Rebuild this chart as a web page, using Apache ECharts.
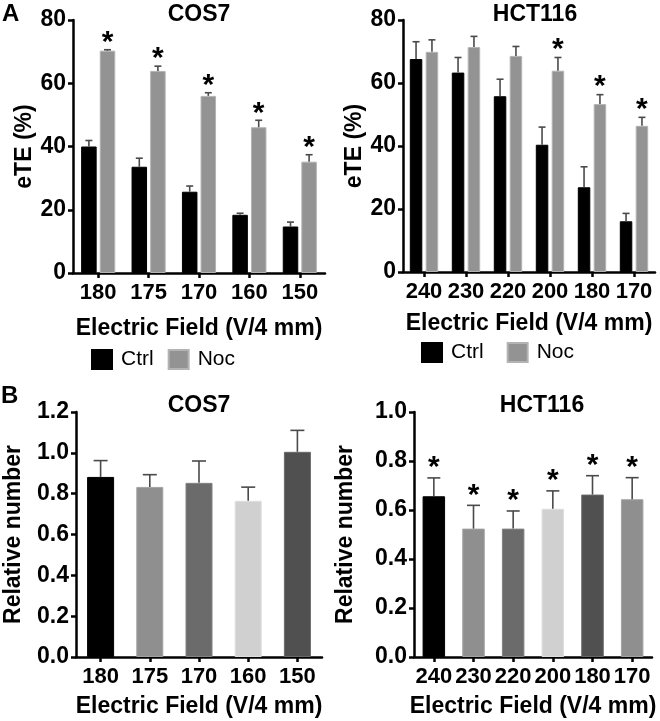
<!DOCTYPE html>
<html>
<head>
<meta charset="utf-8">
<script src="https://cdn.jsdelivr.net/npm/echarts@6/dist/echarts.min.js"></script>
<style>html,body{margin:0;padding:0;background:#fff}#c{width:660px;height:721px}</style>
</head>
<body>
<div id="c"></div>
<script>
// ---- data ----
var cos7Fields = ['180', '175', '170', '160', '150'];
var cos7Ctrl = [40.0, 33.6, 25.7, 18.4, 14.7];
var cos7CtrlErr = [1.9, 2.7, 1.8, 0.5, 1.4];
var cos7Noc = [70.3, 63.9, 56.0, 46.1, 35.2];
var cos7NocErr = [0.3, 1.5, 1.0, 2.2, 2.2];
var cos7NocSig = [true, true, true, true, true];

var hctFields = ['240', '230', '220', '200', '180', '170'];
var hctCtrl = [67.6, 63.3, 55.8, 40.4, 26.9, 16.1];
var hctCtrlErr = [5.5, 4.8, 5.4, 5.6, 6.5, 2.5];
var hctNoc = [69.9, 71.4, 68.6, 63.9, 53.3, 46.4];
var hctNocErr = [3.8, 3.4, 3.0, 4.2, 3.0, 2.7];
var hctNocSig = [false, false, false, true, true, true];

var cos7Rel = [0.882, 0.833, 0.853, 0.765, 1.005];
var cos7RelErr = [0.080, 0.060, 0.107, 0.067, 0.105];
var cos7RelSig = [false, false, false, false, false];

var hctRel = [0.656, 0.524, 0.524, 0.605, 0.663, 0.644];
var hctRelErr = [0.075, 0.095, 0.072, 0.073, 0.077, 0.088];
var hctRelSig = [true, true, true, true, true, true];

// ---- styles ----
var FONT = '"Liberation Sans", Arial, Helvetica, sans-serif';
var ERR_COLOR = '#4a4a4a';
var NOC_FILL = '#939393', NOC_BORDER = '#b3b3b3';
var cos7Palette = [['#000000', '#000000'], ['#8f8f8f', '#a3a3a3'], ['#6b6b6b', '#828282'], ['#d0d0d0', '#dedede'], ['#505050', '#686868']];
var hctPalette = [['#000000', '#000000'], ['#8f8f8f', '#a3a3a3'], ['#6b6b6b', '#828282'], ['#d0d0d0', '#dedede'], ['#505050', '#686868'], ['#8f8f8f', '#a3a3a3']];

function errData(vals, errs) {
  return vals.map(function (v, i) { return [i, v, v + errs[i]]; });
}
function sigData(vals, errs, sig) {
  var out = [];
  vals.forEach(function (v, i) { if (sig[i]) out.push([i, v + errs[i]]); });
  return out;
}
function errRender(offset, capHalf) {
  return function (params, api) {
    var i = api.value(0);
    var p0 = api.coord([i, api.value(1)]);
    var p1 = api.coord([i, api.value(2)]);
    var x = p0[0] + offset;
    var st = { stroke: ERR_COLOR, lineWidth: 1.6 };
    return {
      type: 'group',
      children: [
        { type: 'line', shape: { x1: x, y1: p0[1], x2: x, y2: p1[1] }, style: st },
        { type: 'line', shape: { x1: x - capHalf, y1: p1[1], x2: x + capHalf, y2: p1[1] }, style: st }
      ]
    };
  };
}
function starRender(offset, lift) {
  return function (params, api) {
    var i = api.value(0);
    var p = api.coord([i, api.value(1)]);
    return {
      type: 'text',
      style: {
        x: p[0] + offset, y: p[1] - lift, text: '*',
        fill: '#000', font: 'bold 30px ' + FONT,
        align: 'center', verticalAlign: 'middle'
      }
    };
  };
}
function colored(vals, pal) {
  return vals.map(function (v, i) {
    return { value: v, itemStyle: { color: pal[i][0], borderColor: pal[i][1], borderWidth: 1 } };
  });
}

var axisLine = { show: true, lineStyle: { color: '#000', width: 2.5 } };
var axisTick = { show: true, length: 5, lineStyle: { color: '#000', width: 2.5 } };
var nameStyle = { fontFamily: FONT, fontWeight: 'bold', fontSize: 23, color: '#000' };
var xLabel = { fontFamily: FONT, fontWeight: 'bold', fontSize: 22, color: '#000', margin: 9, interval: 0 };
var yLabel = { fontFamily: FONT, fontWeight: 'bold', fontSize: 23, color: '#000', margin: 7 };
var titleStyle = { fontFamily: FONT, fontWeight: 'bold', fontSize: 23, color: '#000' };

function xAx(idx, cats, gap) {
  return {
    type: 'category', gridIndex: idx, data: cats,
    axisLine: axisLine, axisTick: Object.assign({ alignWithLabel: true }, axisTick),
    axisLabel: xLabel,
    name: 'Electric Field (V/4 mm)', nameLocation: 'middle', nameGap: gap, nameTextStyle: nameStyle
  };
}
function yAx(idx, max, interval, name, gap, fmt) {
  return {
    type: 'value', gridIndex: idx, min: 0, max: max, interval: interval,
    axisLine: axisLine, axisTick: axisTick, splitLine: { show: false },
    axisLabel: Object.assign({ formatter: fmt }, yLabel),
    name: name, nameLocation: 'middle', nameGap: gap, nameTextStyle: nameStyle
  };
}
var f0 = function (v) { return String(v); };
var f1 = function (v) { return v.toFixed(1); };

var cosBW = 15.5, cosGap = 3.1, cosOff = (cosBW + cosGap) / 2;
var hctBW = 12.5, hctGap = 3.4, hctOff = (hctBW + hctGap) / 2;

var option = {
  animation: false,
  backgroundColor: '#fff',
  textStyle: { fontFamily: FONT },
  title: [
    { text: 'COS7', left: 194, top: -2, textAlign: 'center', textStyle: titleStyle },
    { text: 'HCT116', left: 530, top: -2, textAlign: 'center', textStyle: titleStyle },
    { text: 'COS7', left: 194, top: 389, textAlign: 'center', textStyle: titleStyle },
    { text: 'HCT116', left: 537, top: 389, textAlign: 'center', textStyle: titleStyle }
  ],
  graphic: [
    { type: 'text', left: 2, top: 2, style: { text: 'A', font: 'bold 24px ' + FONT, fill: '#000' } },
    { type: 'text', left: 1, top: 384, style: { text: 'B', font: 'bold 24px ' + FONT, fill: '#000' } }
  ],
  legend: [
    { data: ['Ctrl', 'Noc'], left: 86, top: 344, icon: 'rect', itemWidth: 20, itemHeight: 19, itemGap: 14,
      textStyle: { fontFamily: FONT, fontSize: 21, color: '#000', padding: [0, 0, 0, 4] } },
    { data: ['Ctrl', 'Noc'], left: 416, top: 337, icon: 'rect', itemWidth: 20, itemHeight: 19, itemGap: 23,
      textStyle: { fontFamily: FONT, fontSize: 21, color: '#000', padding: [0, 0, 0, 4] } }
  ],
  grid: [
    { left: 73, right: 335, top: 20, bottom: 448 },
    { left: 403, right: 5, top: 20, bottom: 449 },
    { left: 76, right: 338, top: 412, bottom: 64 },
    { left: 414, right: 8, top: 412, bottom: 64 }
  ],
  xAxis: [
    xAx(0, cos7Fields, 44),
    xAx(1, hctFields, 40),
    xAx(2, cos7Fields, 38),
    xAx(3, hctFields, 38)
  ],
  yAxis: [
    yAx(0, 80, 20, 'eTE (%)', 36, f0),
    yAx(1, 80, 20, 'eTE (%)', 36, f0),
    yAx(2, 1.2, 0.2, 'Relative number', 51, f1),
    yAx(3, 1.0, 0.2, 'Relative number', 57, f1)
  ],
  series: [
    // A left
    { name: 'Ctrl', type: 'bar', xAxisIndex: 0, yAxisIndex: 0, data: cos7Ctrl, barWidth: cosBW, barGap: (cosGap / cosBW * 100) + '%',
      itemStyle: { color: '#000', borderColor: '#000', borderWidth: 1 } },
    { name: 'Noc', type: 'bar', xAxisIndex: 0, yAxisIndex: 0, data: cos7Noc, barWidth: cosBW,
      itemStyle: { color: NOC_FILL, borderColor: NOC_BORDER, borderWidth: 1 } },
    { type: 'custom', xAxisIndex: 0, yAxisIndex: 0, data: errData(cos7Ctrl, cos7CtrlErr), renderItem: errRender(-cosOff, 3.5), z: 3 },
    { type: 'custom', xAxisIndex: 0, yAxisIndex: 0, data: errData(cos7Noc, cos7NocErr), renderItem: errRender(cosOff, 3.5), z: 3 },
    { type: 'custom', xAxisIndex: 0, yAxisIndex: 0, data: sigData(cos7Noc, cos7NocErr, cos7NocSig), renderItem: starRender(cosOff, 7), z: 4 },
    // A right
    { name: 'Ctrl', type: 'bar', xAxisIndex: 1, yAxisIndex: 1, data: hctCtrl, barWidth: hctBW, barGap: (hctGap / hctBW * 100) + '%',
      itemStyle: { color: '#000', borderColor: '#000', borderWidth: 1 } },
    { name: 'Noc', type: 'bar', xAxisIndex: 1, yAxisIndex: 1, data: hctNoc, barWidth: hctBW,
      itemStyle: { color: NOC_FILL, borderColor: NOC_BORDER, borderWidth: 1 } },
    { type: 'custom', xAxisIndex: 1, yAxisIndex: 1, data: errData(hctCtrl, hctCtrlErr), renderItem: errRender(-hctOff, 3.5), z: 3 },
    { type: 'custom', xAxisIndex: 1, yAxisIndex: 1, data: errData(hctNoc, hctNocErr), renderItem: errRender(hctOff, 3.5), z: 3 },
    { type: 'custom', xAxisIndex: 1, yAxisIndex: 1, data: sigData(hctNoc, hctNocErr, hctNocSig), renderItem: starRender(hctOff, 8), z: 4 },
    // B left
    { type: 'bar', xAxisIndex: 2, yAxisIndex: 2, data: colored(cos7Rel, cos7Palette), barWidth: 27 },
    { type: 'custom', xAxisIndex: 2, yAxisIndex: 2, data: errData(cos7Rel, cos7RelErr), renderItem: errRender(0, 7), z: 3 },
    { type: 'custom', xAxisIndex: 2, yAxisIndex: 2, data: sigData(cos7Rel, cos7RelErr, cos7RelSig), renderItem: starRender(0, 10), z: 4 },
    // B right
    { type: 'bar', xAxisIndex: 3, yAxisIndex: 3, data: colored(hctRel, hctPalette), barWidth: 22.5 },
    { type: 'custom', xAxisIndex: 3, yAxisIndex: 3, data: errData(hctRel, hctRelErr), renderItem: errRender(0, 6.5), z: 3 },
    { type: 'custom', xAxisIndex: 3, yAxisIndex: 3, data: sigData(hctRel, hctRelErr, hctRelSig), renderItem: starRender(0, 10), z: 4 }
  ]
};
var chart = echarts.init(document.getElementById('c'), null, { renderer: 'canvas' });
chart.setOption(option);
</script>
</body>
</html>
